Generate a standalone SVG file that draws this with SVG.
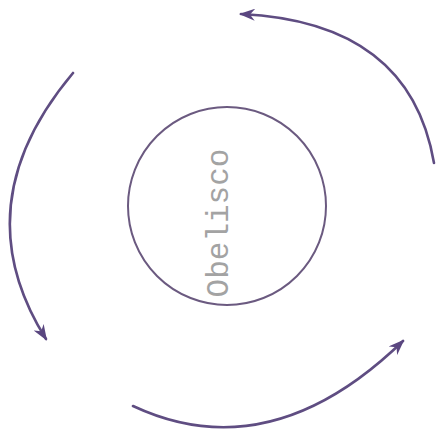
<svg xmlns="http://www.w3.org/2000/svg" width="436" height="429" viewBox="0 0 436 429">
<style>
.arc{fill:none;stroke:#5f4d82;stroke-width:2.6;stroke-linecap:round;marker-end:url(#ah)}
.node{fill:none;stroke:#6b5a80;stroke-width:2}
.lbl{font-family:"Liberation Mono","Courier New",monospace;font-size:31px;fill:#a3a3a3}
</style>
<defs>
<marker id="ah" viewBox="0 0 16 12" refX="14" refY="6" markerWidth="16" markerHeight="12" orient="auto" markerUnits="userSpaceOnUse">
<path d="M0,0 L16,6 L0,12 L5,6 z" fill="#5a4680"/>
</marker>
</defs>
<rect width="436" height="429" fill="#ffffff"/>
<g id="obelisco">
<circle class="node" cx="227" cy="206" r="99"/>
<text class="lbl" transform="translate(228,223) rotate(-90)" text-anchor="middle">Obelisco</text>
</g>
<g id="connectors">
<path class="arc" d="M434,163 Q410,22 241,14"/>
<path class="arc" d="M73,73 Q-38,205 46,339"/>
<path class="arc" d="M133,406 Q270,470 403,341"/>
</g>
</svg>
